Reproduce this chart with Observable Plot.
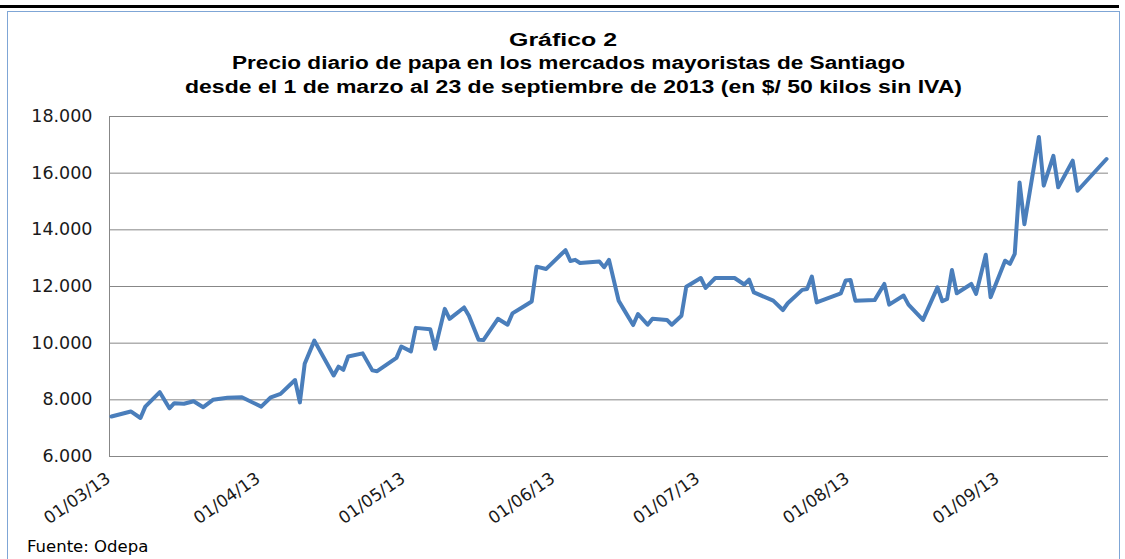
<!DOCTYPE html>
<html>
<head>
<meta charset="utf-8">
<script src="https://cdn.jsdelivr.net/npm/d3@7"></script>
<script src="https://cdn.jsdelivr.net/npm/@observablehq/plot@0.6"></script>
<style>
  html, body { margin: 0; padding: 0; background: #fff; }
  #page { position: relative; width: 1125px; height: 559px; overflow: hidden; background: #fff; }
  #topbar { position: absolute; left: 0; top: 5px; width: 1119px; height: 3px; background: #000; }
  #frame { position: absolute; left: 7px; top: 11px; width: 1113px; height: 600px; border: 1px solid #7fa6d6; box-sizing: border-box; }
  .tl { position: absolute; white-space: nowrap; font-family: "Liberation Sans", Arial, sans-serif; font-weight: bold; font-size: 18px; line-height: 23px; color: #000; transform-origin: 0 0; }
  #caption { position: absolute; white-space: nowrap; font-family: "DejaVu Sans", sans-serif; font-size: 16.5px; line-height: 20px; color: #000; left: 27px; top: 537px; }
  #chart { position: absolute; left: 0; top: 100px; }
</style>
</head>
<body>
<div id="page">
  <div id="topbar"></div>
  <div id="frame"></div>
  <div class="tl" id="t1" data-left="509" data-width="108" style="top:29px">Gráfico 2</div>
  <div class="tl" id="t2" data-left="232" data-width="673" style="top:52px">Precio diario de papa en los mercados mayoristas de Santiago</div>
  <div class="tl" id="t3" data-left="185" data-width="777" style="top:76px">desde el 1 de marzo al 23 de septiembre de 2013 (en $/ 50 kilos sin IVA)</div>
  <div id="chart"></div>
  <div id="caption">Fuente: Odepa</div>
</div>
<script>
// Daily potato price, Santiago wholesale markets ($ / 50 kg, without VAT)
const dates = [
  "2013-03-01","2013-03-05","2013-03-07","2013-03-08","2013-03-11","2013-03-13","2013-03-14","2013-03-16",
  "2013-03-18","2013-03-20","2013-03-22","2013-03-25","2013-03-28","2013-04-01","2013-04-03","2013-04-05",
  "2013-04-08","2013-04-09","2013-04-10","2013-04-12","2013-04-16","2013-04-17","2013-04-18","2013-04-19",
  "2013-04-22","2013-04-24","2013-04-25","2013-04-29","2013-04-30","2013-05-02","2013-05-03","2013-05-06",
  "2013-05-07","2013-05-09","2013-05-10","2013-05-13","2013-05-14","2013-05-16","2013-05-17","2013-05-20",
  "2013-05-22","2013-05-23","2013-05-25","2013-05-27","2013-05-28","2013-05-30","2013-06-02","2013-06-03",
  "2013-06-04","2013-06-05","2013-06-06","2013-06-10","2013-06-11","2013-06-12","2013-06-14","2013-06-15",
  "2013-06-17","2013-06-18","2013-06-20","2013-06-21","2013-06-24","2013-06-25","2013-06-27","2013-06-28",
  "2013-07-01","2013-07-02","2013-07-04","2013-07-08","2013-07-10","2013-07-11","2013-07-12","2013-07-16",
  "2013-07-18","2013-07-19","2013-07-22","2013-07-23","2013-07-24","2013-07-25","2013-07-30","2013-07-31",
  "2013-08-01","2013-08-02","2013-08-06","2013-08-08","2013-08-09","2013-08-12","2013-08-13","2013-08-16",
  "2013-08-19","2013-08-20","2013-08-21","2013-08-22","2013-08-23","2013-08-26","2013-08-27","2013-08-29",
  "2013-08-30","2013-09-02","2013-09-03","2013-09-04","2013-09-05","2013-09-06","2013-09-09","2013-09-10",
  "2013-09-12","2013-09-13","2013-09-16","2013-09-17","2013-09-23"
];
const prices = [
  7410, 7590, 7360, 7760, 8270, 7700, 7880, 7860,
  7950, 7740, 8000, 8070, 8090, 7760, 8090, 8210,
  8700, 7910, 9270, 10090, 8860, 9170, 9060, 9530,
  9640, 9040, 9010, 9480, 9880, 9710, 10540, 10490,
  9800, 11210, 10860, 11260, 10970, 10120, 10110, 10860,
  10650, 11050, 11260, 11470, 12700, 12620, 13120, 13280,
  12900, 12940, 12830, 12880, 12680, 12940, 11500, 11210,
  10640, 11030, 10650, 10860, 10820, 10650, 10970, 11990,
  12300, 11950, 12300, 12300, 12070, 12240, 11790, 11500,
  11170, 11410, 11880, 11910, 12350, 11440, 11760, 12210,
  12230, 11500, 11520, 12090, 11360, 11680, 11360, 10820,
  11970, 11480, 11560, 12580, 11760, 12090, 11740, 13120,
  11620, 12910, 12800, 13150, 15670, 14200, 17280, 15560,
  16610, 15500, 16440, 15380, 16500
];
const yTicks = [6000, 8000, 10000, 12000, 14000, 16000, 18000];
const monthTicks = ["2013-03-01","2013-04-01","2013-05-01","2013-06-01","2013-07-01","2013-08-01","2013-09-01"];
const xStart = "2013-03-01", xEnd = "2013-09-23";

const table = dates.map((d, i) => ({date: new Date(d + "T00:00:00Z"), price: prices[i]}));
const DAY = 864e5;
const x0 = new Date(new Date(xStart + "T00:00:00Z").getTime() - 0.41 * DAY);
const x1 = new Date(new Date(xEnd + "T00:00:00Z").getTime() + 0.41 * DAY);
const es = d3.formatLocale({decimal: ",", thousands: ".", grouping: [3], currency: ["$", ""]});
const yFmt = es.format(",.0f");
const xFmt = d3.utcFormat("%d/%m/%y");

const chart = Plot.plot({
  width: 1125,
  height: 440,
  marginLeft: 109,
  marginRight: 17,
  marginTop: 16,
  marginBottom: 84,
  style: {fontFamily: "DejaVu Sans, sans-serif", color: "#1a1a1a", background: "transparent", overflow: "visible"},
  x: {type: "utc", domain: [x0, x1]},
  y: {domain: [6000, 18000]},
  marks: [
    Plot.gridY(yTicks, {stroke: "#878787", strokeOpacity: 1, strokeWidth: 1}),
    Plot.ruleX([x0], {stroke: "#878787", strokeWidth: 1}),
    Plot.axisY(yTicks, {tickSize: 0, tickPadding: 17, tickFormat: yFmt, fontSize: 17.5, label: null}),
    Plot.axisX(monthTicks.map(d => new Date(d + "T00:00:00Z")), {tickSize: 0, tickPadding: 20, tickRotate: -35, tickFormat: xFmt, fontSize: 17, label: null, dx: -3}),
    Plot.line(table, {x: "date", y: "price", stroke: "#4a7ebb", strokeWidth: 4, strokeLinejoin: "round", strokeLinecap: "round"})
  ]
});
document.getElementById("chart").appendChild(chart);

// stretch title lines to the widths seen in the reference
for (const id of ["t1", "t2", "t3"]) {
  const el = document.getElementById(id);
  const w = el.getBoundingClientRect().width;
  const target = +el.dataset.width;
  el.style.left = el.dataset.left + "px";
  el.style.transform = `scaleX(${target / w})`;
}
</script>
</body>
</html>
